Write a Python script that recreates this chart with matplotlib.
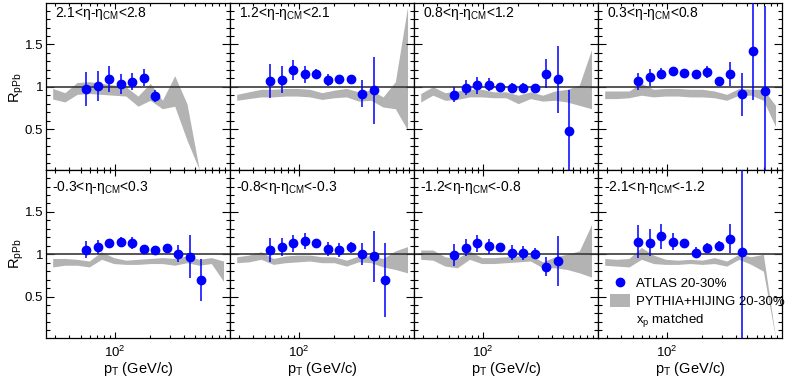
import matplotlib
matplotlib.use('Agg')
import matplotlib.pyplot as plt
from matplotlib.ticker import FixedLocator, NullFormatter, FuncFormatter
from matplotlib.lines import Line2D
from matplotlib.patches import Patch

plt.rcParams['font.family'] = ['Liberation Sans', 'DejaVu Sans']
plt.rcParams['mathtext.fontset'] = 'custom'
plt.rcParams['mathtext.rm'] = 'Liberation Sans'
plt.rcParams['mathtext.it'] = 'Liberation Sans:italic'
plt.rcParams['mathtext.bf'] = 'Liberation Sans:bold'

# pT bin centres (GeV/c)
data_x = [56.2, 70.8, 89.1, 112, 141, 178, 224, 282, 355, 447, 562, 708]
band_x = [28.6, 36.5, 46.6, 59.6, 76.1, 97.1, 124, 158, 202, 258, 330, 422, 538, 688, 878]

titles = ['2.1<η-η$_{\\mathrm{CM}}$<2.8', '1.2<η-η$_{\\mathrm{CM}}$<2.1',
          '0.8<η-η$_{\\mathrm{CM}}$<1.2', '0.3<η-η$_{\\mathrm{CM}}$<0.8',
          '-0.3<η-η$_{\\mathrm{CM}}$<0.3', '-0.8<η-η$_{\\mathrm{CM}}$<-0.3',
          '-1.2<η-η$_{\\mathrm{CM}}$<-0.8', '-2.1<η-η$_{\\mathrm{CM}}$<-1.2']

# ATLAS 20-30% points
y1 = [0.97, 1.01, 1.09, 1.035, 1.06, 1.105, 0.89]
e1 = [0.20, 0.18, 0.15, 0.12, 0.10, 0.10, 0.07]
y2 = [1.067, 1.083, 1.20, 1.146, 1.154, 1.083, 1.094, 1.094, 0.917, 0.957]
e2 = [0.20, 0.16, 0.12, 0.10, 0.06, 0.07, 0.045, 0.045, 0.16, 0.40]
y3 = [0.906, 0.99, 1.016, 1.024, 0.996, 0.988, 0.984, 0.988, 1.154, 1.087, 0.476]
e3 = [0.09, 0.09, 0.10, 0.075, 0.035, 0.055, 0.06, 0.045, 0.17, 0.40, 0.49]
y4 = [1.067, 1.114, 1.154, 1.181, 1.165, 1.15, 1.173, 1.071, 1.15, 0.909, 1.425, 0.953]
e4 = [0.10, 0.10, 0.065, 0.04, 0.05, 0.05, 0.07, 0.045, 0.14, 0.25, 0.58, 1.0]
y5 = [1.055, 1.083, 1.13, 1.15, 1.134, 1.06, 1.05, 1.075, 1.004, 0.972, 0.696]
e5 = [0.10, 0.085, 0.035, 0.05, 0.07, 0.04, 0.04, 0.04, 0.10, 0.25, 0.25]
y6 = [1.05, 1.087, 1.13, 1.154, 1.13, 1.063, 1.05, 1.08, 1.0, 0.976, 0.696]
e6 = [0.14, 0.11, 0.10, 0.095, 0.05, 0.08, 0.085, 0.06, 0.13, 0.30, 0.44]
y7 = [0.992, 1.079, 1.13, 1.095, 1.083, 1.02, 1.012, 1.008, 0.854, 0.92]
e7 = [0.135, 0.10, 0.10, 0.09, 0.045, 0.09, 0.085, 0.07, 0.11, 0.30]
y8 = [1.15, 1.138, 1.21, 1.15, 1.13, 1.02, 1.075, 1.103, 1.186, 1.028]
e8 = [0.20, 0.16, 0.15, 0.10, 0.055, 0.06, 0.055, 0.05, 0.17, 1.1]

# PYTHIA+HIJING band, upper / lower edge
up1 = [0.98, 0.93, 1.05, 1.06, 1.04, 1.02, 1.00, 0.89, 1.04, 0.84, 1.13, 0.80, 0.035]
lo1 = [0.855, 0.82, 0.91, 0.92, 0.91, 0.90, 0.89, 0.77, 0.84, 0.74, 0.77, 0.37, 0.025]
up2 = [0.91, 0.94, 0.97, 0.97, 0.98, 0.98, 0.97, 0.93, 0.96, 0.98, 0.94, 0.96, 0.88, 1.06, 1.94]
lo2 = [0.84, 0.86, 0.88, 0.88, 0.89, 0.89, 0.88, 0.85, 0.87, 0.88, 0.83, 0.84, 0.76, 0.74, 0.49]
up3 = [0.92, 1.00, 0.93, 0.95, 0.97, 0.97, 0.94, 0.94, 0.90, 0.94, 0.90, 0.95, 0.97, 1.02, 1.44]
lo3 = [0.82, 0.90, 0.84, 0.85, 0.88, 0.88, 0.87, 0.87, 0.80, 0.86, 0.83, 0.84, 0.82, 0.78, 0.74]
up4 = [0.95, 0.95, 0.95, 1.04, 0.97, 0.98, 0.98, 0.97, 0.97, 0.95, 0.91, 0.98, 0.97, 0.97, 0.78]
lo4 = [0.86, 0.86, 0.87, 0.90, 0.88, 0.89, 0.89, 0.88, 0.88, 0.87, 0.84, 0.90, 0.90, 0.84, 0.53]
up5 = [0.95, 0.95, 0.94, 0.92, 1.03, 0.96, 0.93, 0.94, 0.95, 0.96, 0.95, 0.98, 0.94, 0.96, 0.92]
lo5 = [0.85, 0.87, 0.87, 0.85, 0.94, 0.89, 0.88, 0.88, 0.89, 0.89, 0.87, 0.90, 0.87, 0.89, 0.68]
up6 = [0.97, 0.99, 1.03, 0.95, 0.98, 0.99, 0.99, 0.97, 0.97, 0.93, 0.98, 0.98, 0.95, 1.04, 1.09]
lo6 = [0.90, 0.91, 0.94, 0.88, 0.90, 0.91, 0.92, 0.90, 0.90, 0.86, 0.91, 0.90, 0.85, 0.82, 0.78]
up7 = [1.05, 1.05, 0.97, 0.95, 1.04, 0.96, 0.96, 0.97, 0.98, 0.99, 0.91, 0.97, 1.00, 1.04, 1.35]
lo7 = [0.94, 0.93, 0.86, 0.84, 0.94, 0.89, 0.89, 0.90, 0.91, 0.92, 0.84, 0.84, 0.82, 0.78, 0.73]
up8 = [0.95, 0.94, 0.95, 1.08, 0.99, 0.94, 0.93, 0.94, 0.93, 0.96, 0.92, 1.00, 0.97, 1.00, 0.02]
lo8 = [0.87, 0.86, 0.85, 0.94, 0.89, 0.88, 0.88, 0.89, 0.88, 0.89, 0.86, 0.94, 0.88, 0.80, 0.01]

ys = [y1, y2, y3, y4, y5, y6, y7, y8]
es = [e1, e2, e3, e4, e5, e6, e7, e8]
ups = [up1, up2, up3, up4, up5, up6, up7, up8]
los = [lo1, lo2, lo3, lo4, lo5, lo6, lo7, lo8]

blue = '#0000ff'
grey = '#b3b3b3'

fig, axes = plt.subplots(2, 4, sharex=True, sharey=True, figsize=(7.88, 3.81), dpi=100)
fig.subplots_adjust(left=46/788, right=782/788, bottom=1-338/381, top=1-3/381,
                    wspace=0, hspace=0)

for i, ax in enumerate(axes.flat):
    n = len(ys[i])
    nb = len(ups[i])
    ax.fill_between(band_x[:nb], los[i], ups[i], color=grey, lw=0, zorder=1)
    ax.axhline(1, color='#383838', lw=1.2, zorder=2)
    ax.errorbar(data_x[:n], ys[i], yerr=es[i], fmt='o', color=blue, ms=6,
                elinewidth=1.1, capsize=0, zorder=3)
    ax.set_xscale('log')
    ax.set_xlim(25, 1000)
    ax.set_ylim(0.01, 1.99)
    ax.xaxis.set_major_locator(FixedLocator([100]))
    ax.xaxis.set_minor_locator(FixedLocator([30, 40, 50, 60, 70, 80, 90,
                                             200, 300, 400, 500, 600, 700, 800, 900]))
    ax.xaxis.set_minor_formatter(NullFormatter())
    ax.yaxis.set_major_locator(FixedLocator([0.5, 1, 1.5]))
    ax.yaxis.set_minor_locator(FixedLocator([0.1 * k for k in range(1, 20)]))
    ax.yaxis.set_major_formatter(FuncFormatter(lambda v, p: '%g' % v))
    ax.tick_params(which='both', direction='in', top=True, right=True,
                   labelsize=9.5, width=0.8, colors='black')
    ax.tick_params(axis='y', which='major', length=6, pad=2)
    ax.tick_params(axis='y', which='minor', length=3)
    ax.tick_params(axis='x', which='major', length=4, pad=5)
    ax.tick_params(axis='x', which='minor', length=2)
    for s in ax.spines.values():
        s.set_linewidth(0.9)
    if i < 4:
        ax.text(0.05, 0.918, titles[i], transform=ax.transAxes, fontsize=10,
                va='baseline', ha='left')
    else:
        ax.text(0.035, 0.875, titles[i], transform=ax.transAxes, fontsize=10,
                va='baseline', ha='left')
        ax.set_xlabel('p$_{\\mathrm{T}}$ (GeV/c)', fontsize=10.5, labelpad=0)

fig.text(17/788, 1-88/381, 'R$_{\\mathrm{pPb}}$', rotation=90, ha='center', va='center', fontsize=10.5)
fig.text(17/788, 1-254/381, 'R$_{\\mathrm{pPb}}$', rotation=90, ha='center', va='center', fontsize=10.5)

h1 = Line2D([], [], ls='none', marker='o', color=blue, ms=6)
h2 = Patch(facecolor=grey, edgecolor='none')
h3 = Line2D([], [], ls='none')
axes[1, 3].legend([h1, h2, h3], ['ATLAS 20-30%', 'PYTHIA+HIJING 20-30%', 'x$_{\\mathrm{p}}$ matched'],
                  loc='upper left', bbox_to_anchor=(0.065, 0.365), frameon=False, fontsize=9.5,
                  handlelength=1.5, handleheight=1.05, handletextpad=0.45, borderpad=0,
                  borderaxespad=0, labelspacing=0.3, numpoints=1)

fig.savefig('out.png', dpi=100)
